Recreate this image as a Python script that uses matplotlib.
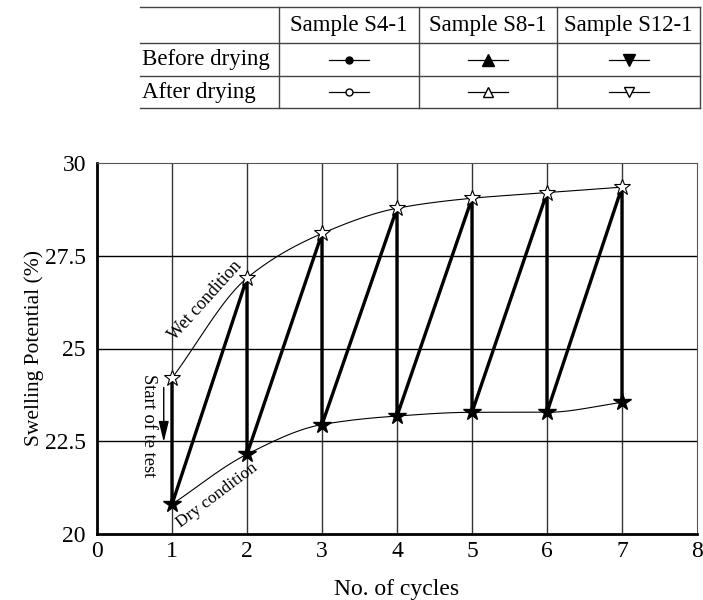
import numpy as np
import matplotlib
matplotlib.use("Agg")
import matplotlib.pyplot as plt

plt.rcParams['font.family'] = ['Liberation Serif', 'DejaVu Serif']

cycles = [1, 2, 3, 4, 5, 6, 7]
wet = [24.2, 26.9, 28.1, 28.78, 29.05, 29.2, 29.35]
dry = [20.8, 22.15, 22.95, 23.18, 23.28, 23.28, 23.55]

x_ticks = [0, 1, 2, 3, 4, 5, 6, 7, 8]
y_ticks = [20, 22.5, 25, 27.5, 30]
y_ticklabels = ["20", "22.5", "25", "27.5", "30"]

table_cols = ["Sample S4-1", "Sample S8-1", "Sample S12-1"]
table_rows = ["Before drying", "After drying"]
row_markers = [["o", "^", "v"], ["o", "^", "v"]]
row_fill = [True, False]


def smooth(xs, ys, n=200):
    xs = np.asarray(xs, float)
    ys = np.asarray(ys, float)
    h = np.diff(xs)
    d = np.diff(ys) / h
    m = np.zeros_like(ys)
    m[0] = d[0]
    m[-1] = d[-1]
    for i in range(1, len(xs) - 1):
        if d[i - 1] * d[i] <= 0:
            m[i] = 0
        else:
            w1 = 2 * h[i] + h[i - 1]
            w2 = h[i] + 2 * h[i - 1]
            m[i] = (w1 + w2) / (w1 / d[i - 1] + w2 / d[i])
    xx = np.linspace(xs[0], xs[-1], n)
    yy = np.empty_like(xx)
    for j, xv in enumerate(xx):
        k = min(np.searchsorted(xs, xv, side='right') - 1, len(xs) - 2)
        t = (xv - xs[k]) / h[k]
        h00 = 2 * t**3 - 3 * t**2 + 1
        h10 = t**3 - 2 * t**2 + t
        h01 = -2 * t**3 + 3 * t**2
        h11 = t**3 - t**2
        yy[j] = h00 * ys[k] + h10 * h[k] * m[k] + h01 * ys[k + 1] + h11 * h[k] * m[k + 1]
    return xx, yy


fig = plt.figure(figsize=(7.03, 6.0), dpi=100)
ax = fig.add_axes([97 / 703, 66 / 600, 600 / 703, 371 / 600])
ax.set_xlim(0, 8)
ax.set_ylim(20, 30)

# grid
for xv in x_ticks[1:-1]:
    ax.axvline(xv, color='#333333', lw=1.0, zorder=1)
for yv in y_ticks[1:-1]:
    ax.axhline(yv, color='black', lw=1.0, zorder=1)

# smooth envelopes
xw, yw = smooth(cycles, wet)
ax.plot(xw, yw, color='black', lw=0.8, zorder=2)
xd, yd = smooth(cycles, dry)
ax.plot(xd, yd, color='black', lw=0.8, zorder=2)

# zigzag path: wet -> dry (vertical), dry -> next wet (diagonal)
px, py = [], []
for i, c in enumerate(cycles):
    px += [c, c]
    py += [wet[i], dry[i]]
ax.plot(px, py, color='black', lw=2.4, zorder=3, solid_joinstyle='miter')

ax.plot(cycles, wet, linestyle='none', marker='*', markersize=12,
        markerfacecolor='white', markeredgecolor='black', markeredgewidth=0.8, zorder=4)
ax.plot(cycles, dry, linestyle='none', marker='*', markersize=13,
        markerfacecolor='black', markeredgecolor='black', zorder=4)

ax.set_xticks(x_ticks)
ax.set_yticks(y_ticks)
ax.set_yticklabels(y_ticklabels)
ax.tick_params(axis='y', length=0, labelsize=17, pad=8)
ax.tick_params(axis='x', length=0, labelsize=17, pad=5)
for s in ['top', 'right']:
    ax.spines[s].set_linewidth(0.8)
    ax.spines[s].set_color('#555555')
ax.spines['bottom'].set_linewidth(2.0)
ax.spines['left'].set_linewidth(2.0)
ax.set_xlabel("No. of cycles", fontsize=17, labelpad=12)
ax.set_ylabel("Swelling Potential (%)", fontsize=15.5)
ax.yaxis.set_label_coords(-0.088, 0.5)

ax.text(1.45, 26.3, "Wet condition", rotation=48, fontsize=13,
        ha='center', va='center', rotation_mode='anchor', zorder=5)
ax.text(1.6, 21.05, "Dry condition", rotation=37, fontsize=12.5,
        ha='center', va='center', rotation_mode='anchor', zorder=5)
ax.text(0.68, 22.93, "Start of te test", rotation=-90, fontsize=13.3,
        ha='center', va='center', zorder=5)
ax.annotate("", xy=(0.89, 22.48), xytext=(0.89, 23.95),
            arrowprops=dict(arrowstyle='-|>,head_length=0.9,head_width=0.22',
                            color='black', lw=1.0,
                            mutation_scale=14, shrinkA=0, shrinkB=0))

# table (legend)
tax = fig.add_axes([140 / 703, (600 - 108) / 600, 560 / 703, 101 / 600])
tax.set_xlim(0, 560)
tax.set_ylim(101, 0)
tax.axis('off')
col_edges = [0, 139, 279, 417, 560]
row_edges = [0, 36, 69, 101]
lc = '#444444'
for yv in row_edges:
    tax.plot([0, 560], [yv, yv], color=lc, lw=1.0, clip_on=False)
for xv in col_edges[1:]:
    tax.plot([xv, xv], [0, 101], color=lc, lw=1.0, clip_on=False)
for j, name in enumerate(table_cols):
    cx = (col_edges[j + 1] + col_edges[j + 2]) / 2
    cy = (row_edges[0] + row_edges[1]) / 2
    tax.text(cx, cy, name, ha='center', va='center', fontsize=16.5)
for i, rname in enumerate(table_rows):
    cy = (row_edges[i + 1] + row_edges[i + 2]) / 2
    tax.text(2, cy, rname, ha='left', va='center', fontsize=16.5)
    for j in range(3):
        cx = (col_edges[j + 1] + col_edges[j + 2]) / 2
        tax.plot([cx - 20, cx + 20], [cy, cy], color='black', lw=0.9)
        mk = row_markers[i][j]
        ms = 5 if mk == 'o' else 8
        if i == 1:
            ms = 5 if mk == 'o' else 7
        tax.plot([cx], [cy], marker=mk, markersize=ms,
                 markerfacecolor='black' if row_fill[i] else 'white',
                 markeredgecolor='black', markeredgewidth=1.0)

fig.savefig("out.png", dpi=100)
